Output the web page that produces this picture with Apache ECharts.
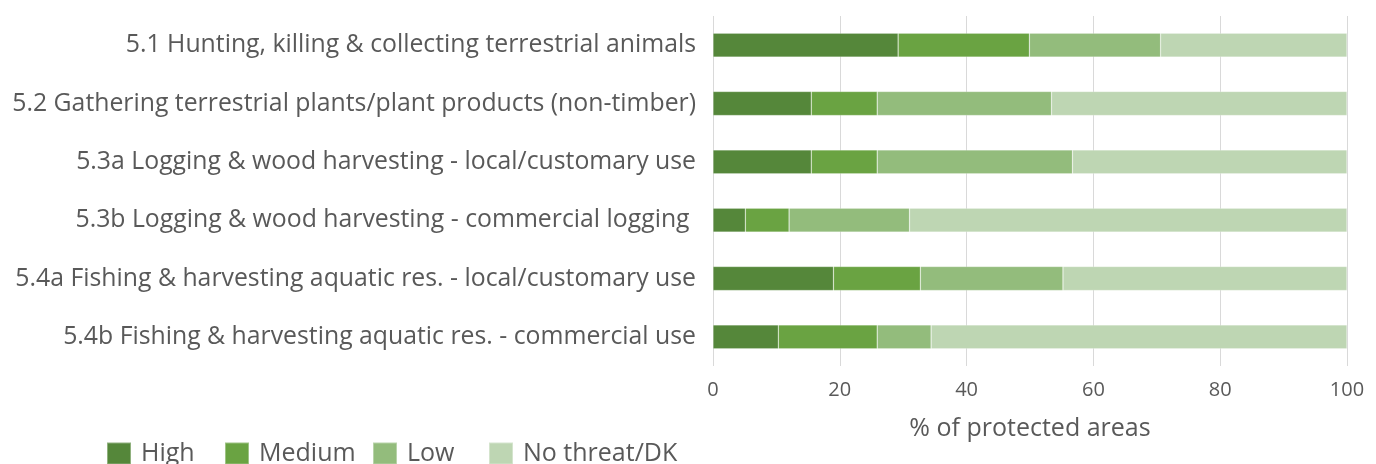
<!DOCTYPE html>
<html>
<head>
<meta charset="utf-8">
<script src="https://cdn.jsdelivr.net/npm/echarts@6/dist/echarts.min.js"></script>
<style>html,body{margin:0;padding:0;background:#fff;}#c{width:1376px;height:464px;}</style>
</head>
<body>
<div id="c"></div>
<script>
const categories = [
  "5.1 Hunting, killing & collecting terrestrial animals",
  "5.2 Gathering terrestrial plants/plant products (non-timber)",
  "5.3a Logging & wood harvesting - local/customary use",
  "5.3b Logging & wood harvesting - commercial logging ",
  "5.4a Fishing & harvesting aquatic res. - local/customary use",
  "5.4b Fishing & harvesting aquatic res. - commercial use"
];
const seriesNames = ["High", "Medium", "Low", "No threat/DK"];
const high     = [29.2, 15.5, 15.5, 5.1, 19.0, 10.3];
const medium   = [20.7, 10.4, 10.4, 6.9, 13.7, 15.6];
const low      = [20.7, 27.5, 30.8, 19.0, 22.5, 8.5];
const noThreat = [29.4, 46.6, 43.3, 69.0, 44.8, 65.6];
const xTicks = [0, 20, 40, 60, 80, 100];

const colors = ["#55873a", "#6aa342", "#93bc7c", "#bed6b3"];
const legendLefts = [106, 224, 372, 488];
const font = "'Open Sans', 'Noto Sans', sans-serif";
const mk = (name, data, c) => ({
  name, type: 'bar', stack: 'a', data, barWidth: 24,
  itemStyle: { color: c, borderColor: 'rgba(255,255,255,0.35)', borderWidth: 0.6 },
  emphasis: { disabled: true }
});
const chart = echarts.init(document.getElementById('c'), null, { renderer: 'canvas' });
chart.setOption({
  animation: false,
  textStyle: { fontFamily: font },
  grid: { left: 713, right: 29, top: 16, height: 350, containLabel: false },
  legend: seriesNames.map((n, i) => ({
    left: legendLefts[i], top: 441, itemWidth: 24, itemHeight: 22, itemGap: 0,
    icon: 'rect', selectedMode: false, padding: 0,
    textStyle: { color: '#595959', fontSize: 25, lineHeight: 22, fontFamily: font, padding: [0, 0, 0, 5] },
    data: [n]
  })),
  xAxis: {
    type: 'value', min: xTicks[0], max: xTicks[xTicks.length - 1], interval: 20,
    name: '% of protected areas', nameLocation: 'middle', nameGap: 50,
    nameTextStyle: { color: '#595959', fontSize: 25, fontFamily: font },
    axisLine: { show: false }, axisTick: { show: false },
    axisLabel: { color: '#595959', fontSize: 20, margin: 14, fontFamily: font },
    splitLine: { show: true, lineStyle: { color: '#d9d9d9', width: 1 } }
  },
  yAxis: {
    type: 'category', data: categories, inverse: true,
    axisLine: { show: false }, axisTick: { show: false },
    axisLabel: { color: '#595959', fontSize: 24.8, margin: 17, fontFamily: font }
  },
  series: [
    mk(seriesNames[0], high, colors[0]),
    mk(seriesNames[1], medium, colors[1]),
    mk(seriesNames[2], low, colors[2]),
    mk(seriesNames[3], noThreat, colors[3])
  ]
});
</script>
</body>
</html>
